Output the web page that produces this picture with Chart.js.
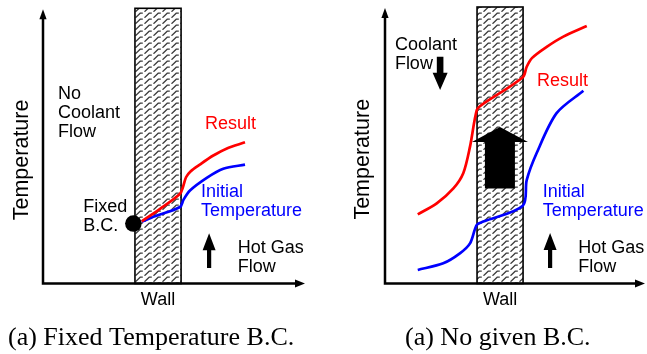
<!DOCTYPE html>
<html>
<head>
<meta charset="utf-8">
<script src="https://cdn.jsdelivr.net/npm/chart.js@4/dist/chart.umd.min.js"></script>
<style>
  html, body { margin: 0; padding: 0; background: #fff; }
  #wrap { position: relative; width: 647px; height: 354px; overflow: hidden; }
  #c1 { position: absolute; left: 0; top: 0; }
  #c2 { position: absolute; left: 330px; top: 0; }
</style>
</head>
<body>
<div id="wrap">
  <canvas id="c1" width="330" height="354"></canvas>
  <canvas id="c2" width="317" height="354"></canvas>
</div>
<script>
// Position across the domain (0 = coolant side, 100 = far hot-gas side) and temperature (0..100, arbitrary units)

// Panel (a): fixed temperature boundary condition on the coolant-side wall face
const fixedResultPos   = [37.7, 44.7, 52.3, 53.4, 54.6, 56.3, 60.0, 65.0, 70.0, 77.1];
const fixedResultTemp  = [22.6, 27.1, 32.6, 35.0, 38.6, 40.7, 43.3, 46.5, 49.0, 51.3];
const fixedInitialPos  = [37.7, 42.7, 52.3, 53.6, 56.1, 62.5, 68.8, 77.1];
const fixedInitialTemp = [22.4, 24.4, 27.8, 30.4, 33.8, 38.4, 41.7, 43.2];
const fixedBcPos  = [34.5];
const fixedBcTemp = [21.8];

// Panel (b): coolant flow, no prescribed boundary condition
const freeResultPos   = [12.6, 19.9, 26.3, 30.1, 32.7, 35.3, 37.2, 53.0, 54.5, 56.6, 62.2, 68.6, 77.6];
const freeResultTemp  = [25.0, 29.0, 34.4, 39.9, 49.5, 62.7, 64.6, 74.6, 78.4, 81.6, 85.6, 89.3, 93.1];
const freeInitialPos  = [12.6, 22.4, 28.8, 32.7, 35.3, 37.8, 53.0, 54.5, 58.3, 66.0, 76.3];
const freeInitialTemp = [4.9, 7.3, 10.9, 14.5, 21.2, 22.4, 28.1, 37.4, 47.1, 61.6, 69.7];

// Wall extent along the position axis
const fixedWall = [35.1, 52.7];
const freeWall  = [35.4, 53.1];

const SANS  = '"Liberation Sans", Arial, sans-serif';
const SERIF = '"Liberation Serif", "Times New Roman", serif';
const RED  = '#ff0000';
const BLUE = '#0000ff';

function pts(xs, ys) { return xs.map((x, i) => ({ x, y: ys[i] })); }

function hatchPattern(ctx) {
  const t = document.createElement('canvas');
  t.width = 9; t.height = 6;
  const g = t.getContext('2d');
  g.fillStyle = '#fff';
  g.fillRect(0, 0, 9, 6);
  g.strokeStyle = '#3c3c3c';
  g.lineWidth = 1.2;
  g.beginPath();
  g.moveTo(0.5, 5.8);
  g.lineTo(5.2, 1.2);
  g.lineTo(7.8, 1.2);
  g.stroke();
  return ctx.createPattern(t, 'repeat');
}

// Solid block arrow pointing vertically from tail to tip (pixel y values)
function blockArrow(ctx, cx, tail, tip, shaftW, headW, headL) {
  const dir = tip < tail ? -1 : 1;
  const base = tip - dir * headL;
  ctx.beginPath();
  ctx.moveTo(cx - shaftW / 2, tail);
  ctx.lineTo(cx - shaftW / 2, base);
  ctx.lineTo(cx - headW / 2, base);
  ctx.lineTo(cx, tip);
  ctx.lineTo(cx + headW / 2, base);
  ctx.lineTo(cx + shaftW / 2, base);
  ctx.lineTo(cx + shaftW / 2, tail);
  ctx.closePath();
  ctx.fill();
}

const schematic = {
  id: 'schematic',
  beforeDatasetsDraw(chart, args, o) {
    const { ctx, chartArea: a, scales: { x, y } } = chart;
    ctx.save();
    // hatched wall
    const l = x.getPixelForValue(o.wall[0]);
    const r = x.getPixelForValue(o.wall[1]);
    const t = y.getPixelForValue(y.max);
    const b = y.getPixelForValue(0);
    ctx.fillStyle = hatchPattern(ctx);
    ctx.fillRect(l, t, r - l, b - t);
    ctx.strokeStyle = '#000';
    ctx.lineWidth = 1.6;
    ctx.strokeRect(l, t, r - l, b - t);

    // flow arrows
    ctx.fillStyle = '#000';
    for (const ar of o.arrows) {
      blockArrow(ctx, x.getPixelForValue(ar.x), y.getPixelForValue(ar.from),
                 y.getPixelForValue(ar.to), ar.shaft, ar.head, ar.headLen);
    }

    // axes with arrow heads
    ctx.strokeStyle = '#000';
    ctx.lineWidth = 2.5;
    ctx.beginPath();
    ctx.moveTo(a.left, a.bottom + 1.2);
    ctx.lineTo(a.left, a.top + 10);
    ctx.moveTo(a.left - 1.2, a.bottom);
    ctx.lineTo(a.right - 9, a.bottom);
    ctx.stroke();
    ctx.beginPath();
    ctx.moveTo(a.left, a.top + 1);
    ctx.lineTo(a.left - 3.6, a.top + 11);
    ctx.lineTo(a.left + 3.6, a.top + 11);
    ctx.closePath();
    ctx.fill();
    ctx.beginPath();
    ctx.moveTo(a.right, a.bottom);
    ctx.lineTo(a.right - 10, a.bottom - 4);
    ctx.lineTo(a.right - 10, a.bottom + 4);
    ctx.closePath();
    ctx.fill();
    ctx.restore();
  },
  afterDraw(chart, args, o) {
    const { ctx, chartArea: a, scales: { x, y } } = chart;
    ctx.save();
    ctx.textBaseline = 'alphabetic';
    ctx.font = '18px ' + SANS;
    for (const lb of o.labels) {
      ctx.fillStyle = lb.color || '#000';
      ctx.textAlign = 'left';
      const px = x.getPixelForValue(lb.x);
      const py = y.getPixelForValue(lb.y);
      lb.lines.forEach((s, i) => ctx.fillText(s, px, py + i * 19.2));
    }
    // wall label
    ctx.fillStyle = '#000';
    ctx.textAlign = 'center';
    ctx.fillText('Wall', (x.getPixelForValue(o.wall[0]) + x.getPixelForValue(o.wall[1])) / 2, a.bottom + 21.5);

    // vertical axis title
    ctx.save();
    ctx.font = '21.5px ' + SANS;
    ctx.translate(o.yTitleX, (a.top + a.bottom) / 2 + 14);
    ctx.rotate(-Math.PI / 2);
    ctx.textAlign = 'center';
    ctx.fillText('Temperature', 0, 0);
    ctx.restore();

    // caption
    ctx.font = '26px ' + SERIF;
    ctx.textAlign = 'left';
    ctx.fillText(o.caption, o.captionX, 345);
    ctx.restore();
  }
};

function lineSet(data, color) {
  return {
    data, borderColor: color, borderWidth: 2.7, pointRadius: 0,
    fill: false, tension: 0.3
  };
}

function makeChart(id, datasets, pad, deco) {
  return new Chart(document.getElementById(id), {
    type: 'line',
    data: { datasets },
    options: {
      responsive: false,
      animation: false,
      events: [],
      layout: { padding: pad },
      scales: {
        x: { type: 'linear', min: 0, max: 100, display: false },
        y: { type: 'linear', min: 0, max: 100, display: false }
      },
      plugins: { legend: { display: false }, tooltip: { enabled: false }, schematic: deco }
    },
    plugins: [schematic]
  });
}

makeChart('c1', [
  { type: 'scatter', data: pts(fixedBcPos, fixedBcTemp), pointRadius: 8.3,
    backgroundColor: '#000', borderWidth: 0 },
  lineSet(pts(fixedResultPos, fixedResultTemp), RED),
  lineSet(pts(fixedInitialPos, fixedInitialTemp), BLUE)
], { left: 43, right: 25, top: 7, bottom: 70.5 }, {
  wall: fixedWall,
  arrows: [{ x: 63.4, from: 5.6, to: 18.3, shaft: 4.2, head: 13, headLen: 17 }],
  labels: [
    { lines: ['No', 'Coolant', 'Flow'], x: 5.7, y: 67.1 },
    { lines: ['Fixed', 'B.C.'], x: 15.4, y: 25.9 },
    { lines: ['Result'], x: 61.8, y: 56.2, color: RED },
    { lines: ['Initial', 'Temperature'], x: 60.3, y: 31.4, color: BLUE },
    { lines: ['Hot Gas', 'Flow'], x: 74.3, y: 11.0 }
  ],
  yTitleX: 27.5,
  caption: '(a) Fixed Temperature B.C.',
  captionX: 8
});

makeChart('c2', [
  lineSet(pts(freeResultPos, freeResultTemp), RED),
  lineSet(pts(freeInitialPos, freeInitialTemp), BLUE)
], { left: 55, right: 2, top: 7, bottom: 70.5 }, {
  wall: freeWall,
  arrows: [
    { x: 44.2, from: 34.4, to: 56.6, shaft: 30, head: 56, headLen: 15 },
    { x: 21.2, from: 82.0, to: 70.0, shaft: 6.6, head: 15, headLen: 17.3 },
    { x: 63.5, from: 5.6, to: 18.3, shaft: 4.2, head: 13, headLen: 17 }
  ],
  labels: [
    { lines: ['Coolant', 'Flow'], x: 3.8, y: 84.4 },
    { lines: ['Result'], x: 58.5, y: 71.4, color: RED },
    { lines: ['Initial', 'Temperature'], x: 60.7, y: 31.4, color: BLUE },
    { lines: ['Hot Gas', 'Flow'], x: 74.3, y: 11.0 }
  ],
  yTitleX: 39,
  caption: '(a) No given B.C.',
  captionX: 75
});
</script>
</body>
</html>
